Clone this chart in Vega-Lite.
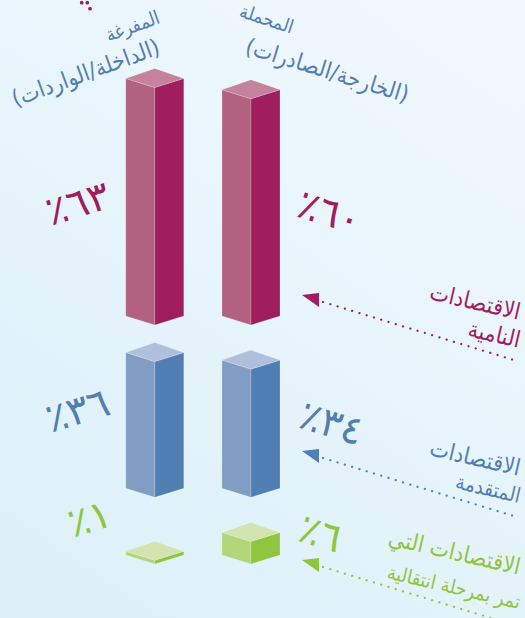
{
  "$schema": "https://vega.github.io/schema/vega-lite/v6.json",
  "width": 525,
  "height": 618,
  "padding": 0,
  "autosize": {"type": "fit", "contains": "padding"},
  "background": "#e8f5fb",
  "view": {"stroke": null},
  "config": {"axis": {"title": null}, "text": {"font": "DejaVu Sans"}},
  "datasets": {
    "bars": [
      {"flow": "inward", "economy": "developing", "share": 63, "label": "٦٣٪\u200f"},
      {"flow": "inward", "economy": "advanced", "share": 36, "label": "٣٦٪\u200f"},
      {"flow": "inward", "economy": "transition", "share": 1, "label": "١٪\u200f"},
      {"flow": "outward", "economy": "developing", "share": 60, "label": "٦٠٪\u200f"},
      {"flow": "outward", "economy": "advanced", "share": 34, "label": "٣٤٪\u200f"},
      {"flow": "outward", "economy": "transition", "share": 6, "label": "٦٪\u200f"}
    ],
    "economyNotes": [
      {"economy": "developing", "line": 0, "text": "الاقتصادات"},
      {"economy": "developing", "line": 1, "text": "النامية"},
      {"economy": "advanced", "line": 0, "text": "الاقتصادات"},
      {"economy": "advanced", "line": 1, "text": "المتقدمة"},
      {"economy": "transition", "line": 0, "text": "الاقتصادات التي"},
      {"economy": "transition", "line": 1, "text": "تمر بمرحلة انتقالية"}
    ],
    "economies": [
      {"economy": "developing"},
      {"economy": "advanced"},
      {"economy": "transition"}
    ]
  },
  "encoding": {
    "x": {"type": "quantitative", "axis": null, "scale": {"domain": [0, 525], "nice": false, "zero": false}},
    "y": {"type": "quantitative", "axis": null, "scale": {"domain": [0, 618], "reverse": true, "nice": false, "zero": false}}
  },
  "layer": [
    {
      "data": {"values": [{}]},
      "mark": {
        "type": "rect",
        "fill": {
          "gradient": "linear",
          "x1": 0.85, "y1": 0.05, "x2": 0.3, "y2": 1,
          "stops": [
            {"offset": 0, "color": "#f0f8fe"},
            {"offset": 1, "color": "#def1f9"}
          ]
        }
      },
      "encoding": {
        "x": {"datum": 0},
        "x2": {"datum": 525},
        "y": {"datum": 0},
        "y2": {"datum": 618}
      }
    },
    {
      "data": {"name": "bars"},
      "transform": [
        {"calculate": "{developing: 316, advanced: 488.3, transition: 555}[datum.economy]", "as": "base"},
        {"calculate": "{inward: 154.8, outward: 251}[datum.flow]", "as": "cx"},
        {"calculate": "datum.share * 3.77", "as": "h"},
        {"calculate": "['left', 'right', 'top']", "as": "face"},
        {"flatten": ["face"]},
        {"calculate": "datum.face === 'left' ? [0, 1] : datum.face === 'right' ? [1, 2] : [0, 1, 2]", "as": "corner"},
        {"flatten": ["corner"]},
        {"calculate": "datum.cx + (datum.corner - 1) * 29", "as": "px"},
        {"calculate": "1 - abs(datum.corner - 1)", "as": "mid"},
        {"calculate": "datum.face === 'top' ? datum.base - datum.h - 10 * datum.mid : datum.base + 9 * datum.mid - datum.h", "as": "py"},
        {"calculate": "datum.face === 'top' ? datum.base - datum.h + 9 * datum.mid : datum.base + 9 * datum.mid", "as": "py2"},
        {"calculate": "datum.economy + '-' + datum.face", "as": "shade"},
        {"calculate": "datum.flow + '-' + datum.economy + '-' + datum.face", "as": "piece"}
      ],
      "mark": {"type": "area", "orient": "vertical", "stroke": "#ffffff", "strokeOpacity": 0.3, "strokeWidth": 0.6},
      "encoding": {
        "x": {"field": "px", "type": "quantitative"},
        "y": {"field": "py", "type": "quantitative"},
        "y2": {"field": "py2"},
        "detail": {"field": "piece", "type": "nominal"},
        "color": {
          "field": "shade",
          "type": "nominal",
          "legend": null,
          "scale": {
            "domain": ["developing-left", "developing-right", "developing-top", "advanced-left", "advanced-right", "advanced-top", "transition-left", "transition-right", "transition-top"],
            "range": ["#b26180", "#a01e5e", "#c5829d", "#819dc4", "#527fb3", "#b0c0dc", "#b2d67a", "#8fc63f", "#d2e4b0"]
          }
        }
      }
    },
    {
      "data": {"name": "economies"},
      "transform": [
        {"calculate": "{developing: 295, advanced: 451, transition: 560}[datum.economy]", "as": "tip"},
        {"calculate": "[0, 1]", "as": "end"},
        {"flatten": ["end"]},
        {"calculate": "datum.end ? 319 : 302", "as": "px"},
        {"calculate": "datum.tip - 2 * datum.end", "as": "py"},
        {"calculate": "datum.tip + 12 * datum.end", "as": "py2"},
        {"calculate": "datum.economy + '-right'", "as": "shade"}
      ],
      "mark": {"type": "area", "orient": "vertical"},
      "encoding": {
        "x": {"field": "px", "type": "quantitative"},
        "y": {"field": "py", "type": "quantitative"},
        "y2": {"field": "py2"},
        "color": {"field": "shade", "type": "nominal", "legend": null}
      }
    },
    {
      "data": {"name": "economies"},
      "transform": [
        {"calculate": "{developing: 295, advanced: 451, transition: 560}[datum.economy]", "as": "tip"},
        {"calculate": "[0, 1]", "as": "end"},
        {"flatten": ["end"]},
        {"calculate": "datum.end ? 517 : 323", "as": "px"},
        {"calculate": "datum.tip + (datum.end ? 66 : 7)", "as": "py"},
        {"calculate": "datum.economy + '-right'", "as": "shade"}
      ],
      "mark": {"type": "line", "strokeWidth": 2.2, "strokeCap": "round", "strokeDash": [0.1, 7.5], "clip": true},
      "encoding": {
        "x": {"field": "px", "type": "quantitative"},
        "y": {"field": "py", "type": "quantitative"},
        "color": {"field": "shade", "type": "nominal", "legend": null}
      }
    },
    {
      "data": {"name": "bars"},
      "transform": [
        {"filter": "datum.flow === 'inward'"},
        {"calculate": "{developing: 78, advanced: 78, transition: 90}[datum.economy]", "as": "px"},
        {"calculate": "{developing: 205, advanced: 412, transition: 520}[datum.economy]", "as": "py"},
        {"calculate": "datum.economy + '-right'", "as": "shade"}
      ],
      "mark": {"type": "text", "fontSize": 40, "angle": 343, "align": "center", "baseline": "middle"},
      "encoding": {
        "x": {"field": "px", "type": "quantitative"},
        "y": {"field": "py", "type": "quantitative"},
        "text": {"field": "label"},
        "color": {"field": "shade", "type": "nominal", "legend": null}
      }
    },
    {
      "data": {"name": "bars"},
      "transform": [
        {"filter": "datum.flow === 'outward'"},
        {"calculate": "{developing: 329, advanced: 331, transition: 320}[datum.economy]", "as": "px"},
        {"calculate": "{developing: 214, advanced: 425, transition: 535}[datum.economy]", "as": "py"},
        {"calculate": "datum.economy + '-right'", "as": "shade"}
      ],
      "mark": {"type": "text", "fontSize": 40, "angle": 17, "align": "center", "baseline": "middle"},
      "encoding": {
        "x": {"field": "px", "type": "quantitative"},
        "y": {"field": "py", "type": "quantitative"},
        "text": {"field": "label"},
        "color": {"field": "shade", "type": "nominal", "legend": null}
      }
    },
    {
      "data": {"name": "economyNotes"},
      "transform": [
        {"calculate": "{developing: 313, advanced: 469, transition: 568}[datum.economy] + datum.line * {developing: 28, advanced: 28, transition: 35}[datum.economy]", "as": "py"},
        {"calculate": "datum.economy + '-right'", "as": "shade"},
        {"calculate": "520", "as": "px"}
      ],
      "mark": {"type": "text", "angle": 13, "align": "right", "baseline": "middle", "font": "DejaVu Sans Condensed"},
      "encoding": {
        "x": {"field": "px", "type": "quantitative"},
        "y": {"field": "py", "type": "quantitative"},
        "text": {"field": "text"},
        "size": {
          "condition": [
            {"test": "datum.economy === 'transition' && datum.line === 1", "value": 19.5},
            {"test": "datum.economy === 'advanced' && datum.line === 1", "value": 20.5}
          ],
          "value": 23
        },
        "color": {"field": "shade", "type": "nominal", "legend": null}
      }
    },
    {
      "mark": {"type": "text", "text": "المفرغة", "fontSize": 19, "angle": 340, "align": "right", "baseline": "middle", "color": "#527fb3", "font": "DejaVu Sans Condensed"},
      "data": {"values": [{}]},
      "encoding": {"x": {"datum": 159}, "y": {"datum": 17}}
    },
    {
      "mark": {"type": "text", "text": "(الداخلة/الواردات)", "fontSize": 23, "angle": 340, "align": "right", "baseline": "middle", "color": "#527fb3", "font": "DejaVu Sans Condensed"},
      "data": {"values": [{}]},
      "encoding": {"x": {"datum": 159}, "y": {"datum": 47}}
    },
    {
      "mark": {"type": "text", "text": "المحملة", "fontSize": 19, "angle": 18, "align": "right", "baseline": "middle", "color": "#527fb3", "font": "DejaVu Sans Condensed"},
      "data": {"values": [{}]},
      "encoding": {"x": {"datum": 293}, "y": {"datum": 28}}
    },
    {
      "mark": {"type": "text", "text": "(الخارجة/الصادرات)", "fontSize": 23, "angle": 17, "align": "right", "baseline": "middle", "color": "#527fb3", "font": "DejaVu Sans Condensed"},
      "data": {"values": [{}]},
      "encoding": {"x": {"datum": 408}, "y": {"datum": 96}}
    },
    {
      "data": {"values": [{"dot": 1}, {"dot": 2}, {"dot": 3}]},
      "transform": [
        {"calculate": "{1: 81.7, 2: 87.3, 3: 90}[datum.dot]", "as": "px"},
        {"calculate": "{1: 2.7, 2: 2.7, 3: 8.7}[datum.dot]", "as": "py"}
      ],
      "mark": {"type": "point", "filled": true, "size": 14, "color": "#a01e5e", "opacity": 1},
      "encoding": {
        "x": {"field": "px", "type": "quantitative"},
        "y": {"field": "py", "type": "quantitative"}
      }
    }
  ]
}
